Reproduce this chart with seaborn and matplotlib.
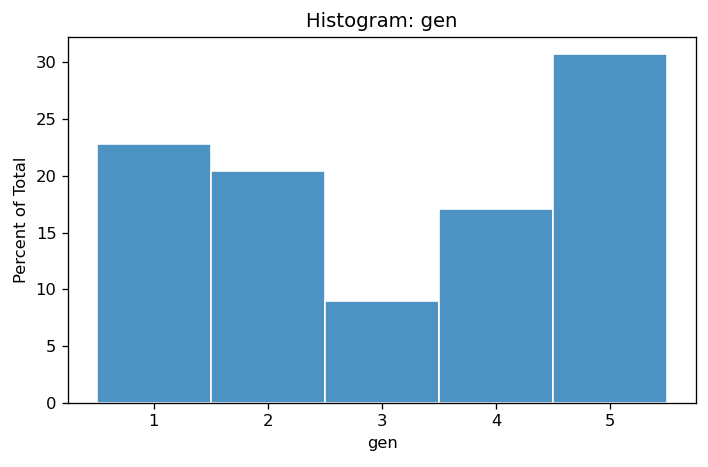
import pandas as pd
import matplotlib.pyplot as plt
import seaborn as sns

gen = [1, 2, 3, 4, 5]
percent = [22.8, 20.45, 8.95, 17.1, 30.7]

df = pd.DataFrame({'gen': gen, 'percent': percent})

f, ax = plt.subplots(figsize=(708 / 118, 467 / 118), dpi=118)
sns.histplot(data=df, x='gen', weights='percent', discrete=True, stat='percent',
             edgecolor='white', alpha=0.8, ax=ax)
ax.set_title('Histogram: gen')
ax.set_ylabel('Percent of Total')
ax.set_xlabel('gen')
f.subplots_adjust(left=68 / 708, right=696 / 708, top=1 - 37 / 467, bottom=1 - 403 / 467)
f.savefig('out.png', dpi=118)
